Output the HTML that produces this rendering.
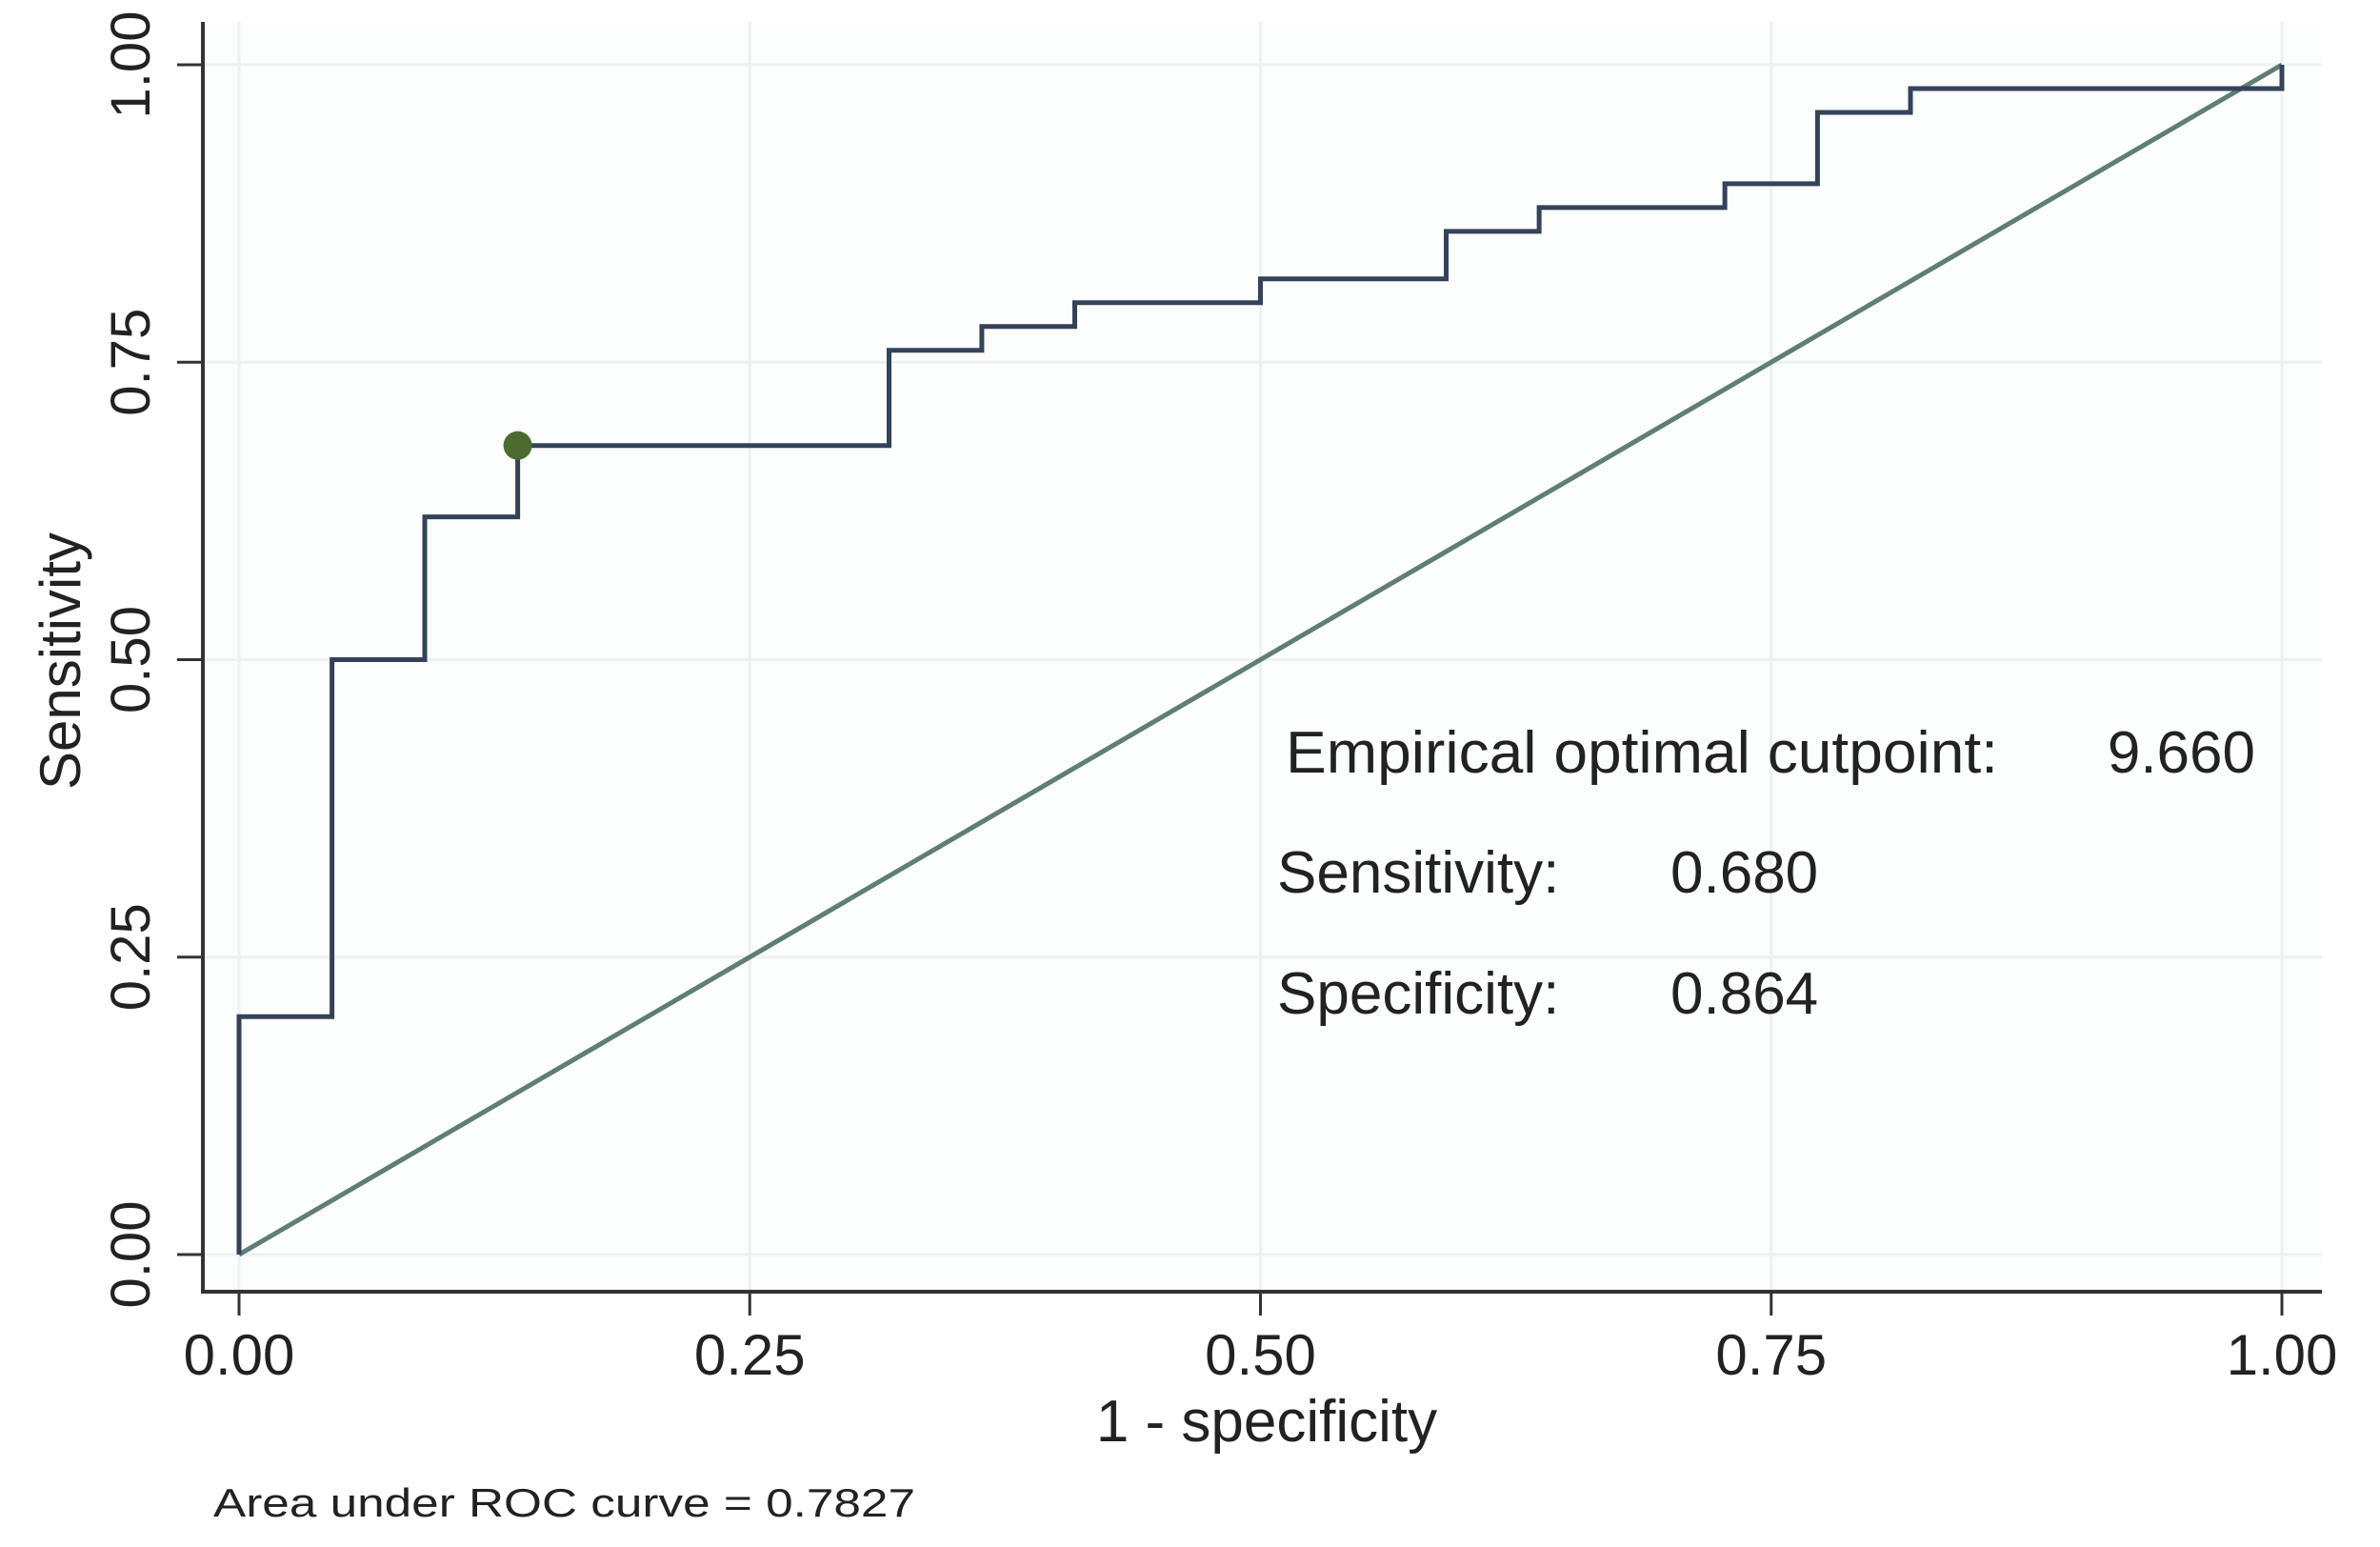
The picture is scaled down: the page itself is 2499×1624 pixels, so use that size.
<!DOCTYPE html>
<html><head><meta charset="utf-8"><style>
html,body{margin:0;padding:0;background:#fff;}
svg{display:block;font-family:"Liberation Sans",Arial,sans-serif;}
</style></head><body>
<svg id="chart" width="2499" height="1624" viewBox="0 0 2499 1624" xmlns="http://www.w3.org/2000/svg">
<rect x="0" y="0" width="2499" height="1624" fill="#ffffff"/>
<rect x="212" y="23" width="2226" height="1333" fill="#fcfdfd"/>
<g id="grid"></g>
<g id="series"></g>
<line x1="213" y1="23" x2="213" y2="1357" stroke="#333" stroke-width="4"/>
<line x1="211" y1="1356" x2="2438" y2="1356" stroke="#333" stroke-width="4"/>
<g id="ticks"></g>
<text transform="translate(84,694) rotate(-90)" text-anchor="middle" font-size="60" fill="#222">Sensitivity</text>
<text x="1330" y="1513" text-anchor="middle" font-size="62" fill="#222">1 - specificity</text>
<text x="224" y="1592" font-size="42" fill="#222" textLength="737" lengthAdjust="spacingAndGlyphs">Area under ROC curve = 0.7827</text>
<text x="1350" y="811" font-size="62" fill="#222" textLength="748" lengthAdjust="spacingAndGlyphs">Empirical optimal cutpoint:</text>
<text x="2368" y="811" text-anchor="end" font-size="62" fill="#222">9.660</text>
<text x="1341" y="937" font-size="62" fill="#222">Sensitivity:</text>
<text x="1754" y="937" font-size="62" fill="#222">0.680</text>
<text x="1341" y="1064" font-size="62" fill="#222">Specificity:</text>
<text x="1754" y="1064" font-size="62" fill="#222">0.864</text>
</svg>
<script>
const fprValues = [0, 0, 0.0455, 0.0455, 0.0909, 0.0909, 0.1364, 0.1364, 0.3182, 0.3182, 0.3636, 0.3636, 0.4091, 0.4091, 0.5, 0.5, 0.5909, 0.5909, 0.6364, 0.6364, 0.7273, 0.7273, 0.7727, 0.7727, 0.8182, 0.8182, 1.0, 1.0];
const tprValues = [0, 0.2, 0.2, 0.5, 0.5, 0.62, 0.62, 0.68, 0.68, 0.76, 0.76, 0.78, 0.78, 0.80, 0.80, 0.82, 0.82, 0.86, 0.86, 0.88, 0.88, 0.90, 0.90, 0.96, 0.96, 0.98, 0.98, 1.0];
const cutpoint = [0.1364, 0.68];
const tickValues = [0, 0.25, 0.5, 0.75, 1];
const tickLabels = ["0.00", "0.25", "0.50", "0.75", "1.00"];

const X0 = 251, X1 = 2396, Y0 = 1317, Y1 = 68;
function xs(v){ return X0 + v * (X1 - X0); }
function ys(v){ return Y0 - v * (Y0 - Y1); }
const NS = "http://www.w3.org/2000/svg";
function mk(tag, attrs, parent){
  const e = document.createElementNS(NS, tag);
  for (const k in attrs) e.setAttribute(k, attrs[k]);
  parent.appendChild(e);
  return e;
}
const grid = document.getElementById('grid');
const ticks = document.getElementById('ticks');
const series = document.getElementById('series');
tickValues.forEach((t, i) => {
  const gx = mk('line', {x1: xs(t), x2: xs(t), y1: 23, y2: 1356, stroke: '#eef1f1', 'stroke-width': 3}, grid);
  
  
  const gy = mk('line', {x1: 212, x2: 2438, y1: ys(t), y2: ys(t), stroke: '#eef1f1', 'stroke-width': 3}, grid);
  
  
  const tx = mk('line', {x1: xs(t), x2: xs(t), y1: 1356, y2: 1381, stroke: '#333', 'stroke-width': 3}, ticks);
  
  
  const ty = mk('line', {x1: 186, x2: 213, y1: ys(t), y2: ys(t), stroke: '#333', 'stroke-width': 3}, ticks);
  
  
  const lx = mk('text', {x: xs(t), y: 1443, 'text-anchor': 'middle', 'font-size': 60, fill: '#222'}, ticks);
  lx.textContent = tickLabels[i];
  
  
  const ly = mk('text', {transform: 'translate(157,' + ys(t) + ') rotate(-90)', 'text-anchor': 'middle', 'font-size': 58, fill: '#222'}, ticks);
  ly.textContent = tickLabels[i];
  
  
});
const diag = mk('line', {x1: xs(0), y1: ys(0), x2: xs(1), y2: ys(1), stroke: '#5f7e74', 'stroke-width': 5}, series);


let d = '';
fprValues.forEach((f, i) => { d += (i ? 'L' : 'M') + xs(f).toFixed(1) + ',' + ys(tprValues[i]).toFixed(1); });
const roc = mk('path', {d: d, fill: 'none', stroke: '#34425a', 'stroke-width': 5}, series);


const pt = mk('circle', {cx: xs(cutpoint[0]), cy: ys(cutpoint[1]), r: 15, fill: '#4d6b30'}, series);


</script>
</body></html>
